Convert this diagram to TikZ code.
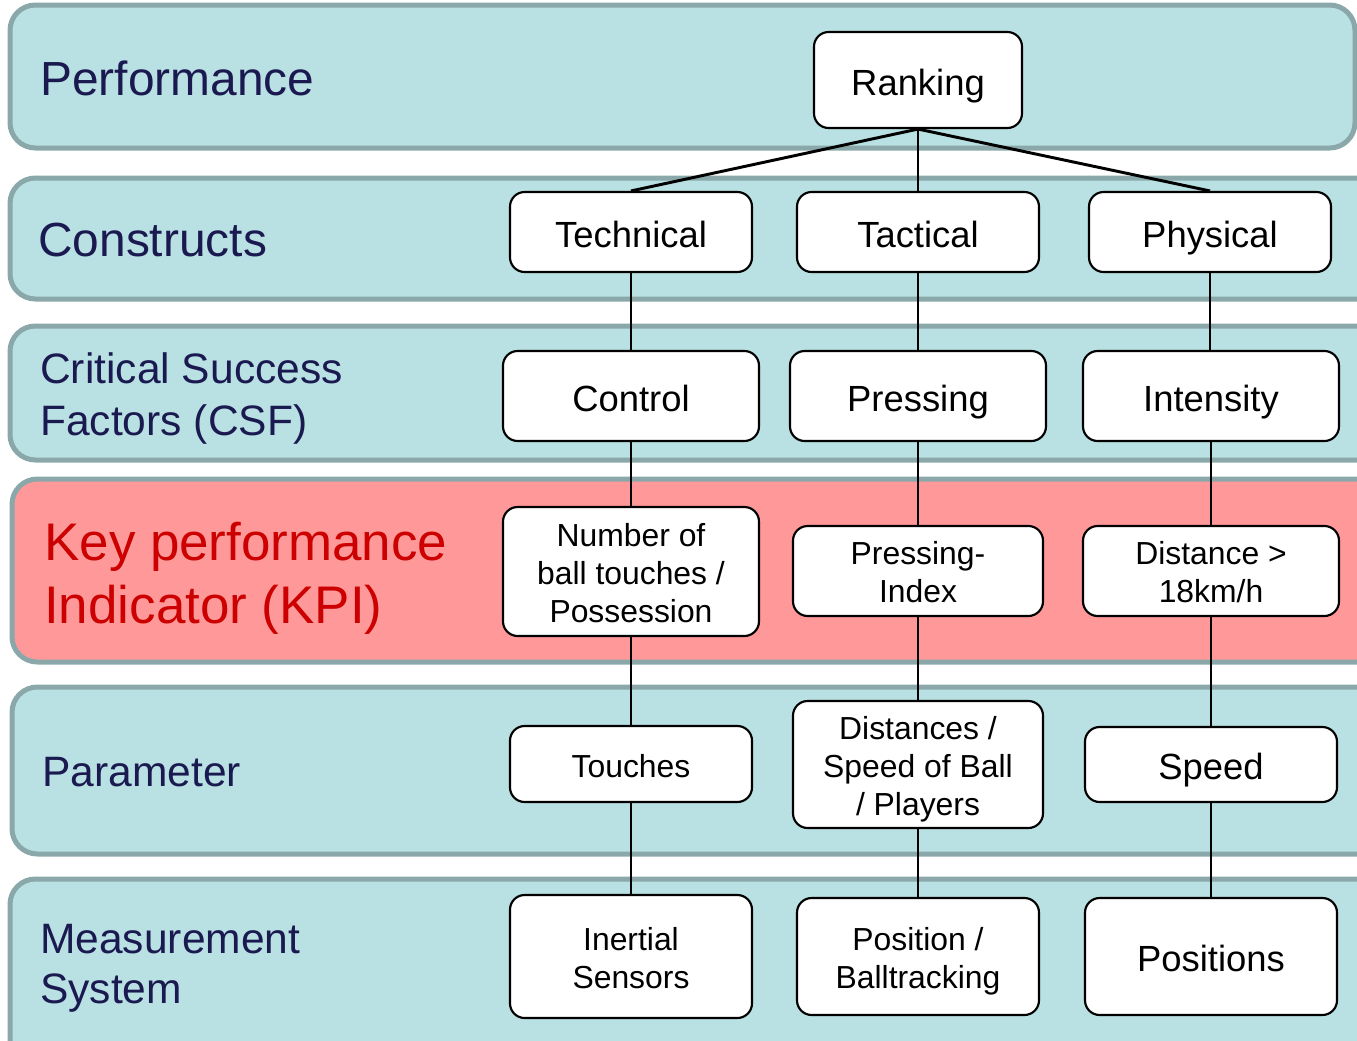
\documentclass[tikz,border=0pt]{standalone}
\usepackage{fontspec}
\setmainfont{Liberation Sans}
\definecolor{bandfill}{RGB}{185,224,227}
\definecolor{bandline}{RGB}{138,168,170}
\definecolor{kpifill}{RGB}{255,153,153}
\definecolor{navy}{RGB}{26,26,80}
\definecolor{kpired}{RGB}{204,0,0}
\newcommand{\mlines}[1]{\raisebox{-10pt}[0pt][0pt]{\begin{tabular}{@{}c@{}}#1\end{tabular}}}
\tikzset{
 band/.style={fill=bandfill, draw=bandline, line width=3.75pt, rounded corners=19pt},
 kpiband/.style={band, fill=kpifill},
 lab/.style={anchor=west, inner sep=0pt, align=left, text=navy},
 box/.style={draw=black, fill=white, line width=1.6pt, rounded corners=11pt, inner sep=0pt, font=\fontsize{27.3}{32}\selectfont},
 sbox/.style={box, font=\fontsize{23.9}{28.5}\selectfont},
 one/.style={text height=22.5pt, text depth=0pt},
 sone/.style={text height=20.1pt, text depth=0pt},
 conn/.style={line width=2.2pt}
}
\begin{document}
\begin{tikzpicture}[x=0.75pt,y=-0.75pt]
\useasboundingbox (0,0) rectangle (1357,1040);
\clip (0,0) rectangle (1357,1040);
% bands
\draw[band] (10,5) rectangle (1355,148);
\draw[band] (10,178) rectangle (1400,299);
\draw[band] (10,326) rectangle (1400,460);
\draw[kpiband] (12,479) rectangle (1400,662);
\draw[band] (12,687) rectangle (1400,854);
\draw[band] (10,879) rectangle (1400,1100);
% band labels
\node[lab, font=\fontsize{35.9}{43}\selectfont] (lperf) at (40,78) {Performance};
\node[lab, font=\fontsize{35.9}{43}\selectfont] (lcons) at (38,240) {Constructs};
\node[lab, font=\fontsize{31.9}{39}\selectfont] (lcsf) at (40,398) {Critical Success\\Factors (CSF)};
\node[lab, text=kpired, font=\fontsize{39.7}{47.3}\selectfont] (lkpi) at (44,578) {Key performance\\Indicator (KPI)};
\node[lab, font=\fontsize{31.9}{39}\selectfont] (lpar) at (42,772) {Parameter};
\node[lab, font=\fontsize{31.9}{37.5}\selectfont] (lmeas) at (40,968) {Measurement\\System};
% nodes
\node[box, one, minimum width=156pt, minimum height=72pt] (rank) at (918,80) {Ranking};
\node[box, one, minimum width=181.5pt, minimum height=60pt] (tech) at (631,232) {Technical};
\node[box, one, minimum width=181.5pt, minimum height=60pt] (tact) at (918,232) {Tactical};
\node[box, one, minimum width=181.5pt, minimum height=60pt] (phys) at (1210,232) {Physical};
\node[box, one, minimum width=192pt, minimum height=67.5pt] (ctrl) at (631,396) {Control};
\node[box, one, minimum width=192pt, minimum height=67.5pt] (press) at (918,396) {Pressing};
\node[box, one, minimum width=192pt, minimum height=67.5pt] (inten) at (1211,396) {Intensity};
\node[sbox, minimum width=192pt, minimum height=96.75pt] (num) at (631,571.5) {\mlines{Number of\\ball touches /\\Possession}};
\node[sbox, minimum width=187.5pt, minimum height=67.5pt] (pidx) at (918,571) {\mlines{Pressing-\\Index}};
\node[sbox, minimum width=192pt, minimum height=67.5pt] (dist) at (1211,571) {\mlines{Distance >\\18km/h}};
\node[sbox, sone, minimum width=181.5pt, minimum height=57pt] (touch) at (631,764) {Touches};
\node[sbox, minimum width=187.5pt, minimum height=95.25pt] (dspeed) at (918,764.5) {\mlines{Distances /\\Speed of Ball\\/ Players}};
\node[box, one, minimum width=189pt, minimum height=56.25pt] (speed) at (1211,764.5) {Speed};
\node[sbox, minimum width=181.5pt, minimum height=92.25pt] (inert) at (631,956.5) {\mlines{Inertial\\Sensors}};
\node[sbox, minimum width=181.5pt, minimum height=87.75pt] (ball) at (918,956.5) {\mlines{Position /\\Balltracking}};
\node[box, one, minimum width=189pt, minimum height=87.75pt] (pos) at (1211,956.5) {Positions};
% connectors
\draw[conn] (rank.south) -- (tech.north);
\draw[conn] (rank.south) -- (tact.north);
\draw[conn] (rank.south) -- (phys.north);
\draw[conn] (tech) -- (ctrl);
\draw[conn] (ctrl) -- (num);
\draw[conn] (num) -- (touch);
\draw[conn] (touch) -- (inert);
\draw[conn] (tact) -- (press);
\draw[conn] (press) -- (pidx);
\draw[conn] (pidx) -- (dspeed);
\draw[conn] (dspeed) -- (ball);
\draw[conn] (phys.south) -- (inten.north -| phys.south);
\draw[conn] (inten) -- (dist);
\draw[conn] (dist) -- (speed);
\draw[conn] (speed) -- (pos);
\end{tikzpicture}
\end{document}
